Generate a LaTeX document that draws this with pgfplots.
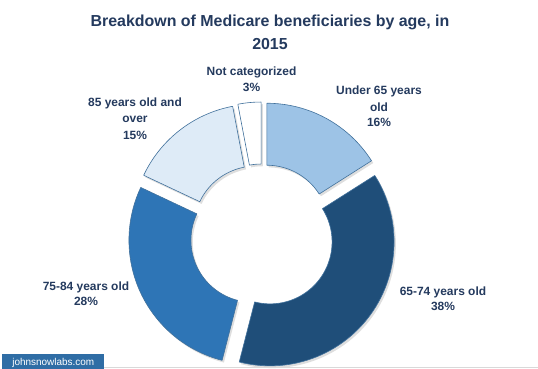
\documentclass[border=0pt]{standalone}
\usepackage{pgfplots}
\pgfplotsset{compat=1.18}
\usepackage{fontspec}
\setmainfont{Liberation Sans}
\definecolor{titleblue}{HTML}{243A5E}
\definecolor{cUnder}{HTML}{9DC3E6}
\definecolor{cSixFive}{HTML}{1F4E79}
\definecolor{cSevFive}{HTML}{2E75B6}
\definecolor{cEightFive}{HTML}{DEEBF7}
\definecolor{edgeblue}{HTML}{41719C}
\definecolor{wmblue}{HTML}{2F6DA5}
\definecolor{gline}{HTML}{D9D9D9}
% ---- data: share of Medicare beneficiaries by age, 2015 (%) ----
\def\pUnder{16}      % Under 65 years old
\def\pSixFive{38}    % 65-74 years old
\def\pSevFive{28}    % 75-84 years old
\def\pEightFive{15}  % 85 years old and over
\def\pNotCat{3}      % Not categorized
% geometry (px): outer radius, inner radius, explode distance, shift
\def\Rout{124}\def\Rin{62}\def\Expl{10}
\def\Sx{0}\def\Sy{0}
% one donut slice: #1 plot options, #2 percent before (clockwise from 12 o'clock), #3 percent
\newcommand{\donutslice}[3]{%
\addplot[#1, line join=round, domain=0:4, samples=241, variable=\t]
 ({\Sx+\Expl*cos(90-3.6*((#2)+0.5*(#3))) + (\Rout-(\Rout-\Rin)*(min(max(\t-1,0),1)-min(max(\t-3,0),1)))*cos(90-3.6*(#2)-3.6*(#3)*(min(\t,1)-min(max(\t-2,0),1)))},
  {\Sy+\Expl*sin(90-3.6*((#2)+0.5*(#3))) + (\Rout-(\Rout-\Rin)*(min(max(\t-1,0),1)-min(max(\t-3,0),1)))*sin(90-3.6*(#2)-3.6*(#3)*(min(\t,1)-min(max(\t-2,0),1)))});
}
\begin{document}
\begin{tikzpicture}
\fill[white] (0,0) rectangle (538bp,369bp);
\begin{axis}[
  at={(0,0)}, anchor=south west,
  x=1bp, y=1bp,
  xmin=-262, xmax=276, ymin=-133, ymax=236,
  hide axis, clip=false,
]
% soft shadows
\def\Sx{1.8}\def\Sy{-2.2}
\donutslice{draw=none, fill=black, fill opacity=0.13}{0}{\pUnder}
\donutslice{draw=none, fill=black, fill opacity=0.13}{\pUnder}{\pSixFive}
\donutslice{draw=none, fill=black, fill opacity=0.13}{\pUnder+\pSixFive}{\pSevFive}
\donutslice{draw=none, fill=black, fill opacity=0.13}{\pUnder+\pSixFive+\pSevFive}{\pEightFive}
\donutslice{draw=none, fill=black, fill opacity=0.13}{\pUnder+\pSixFive+\pSevFive+\pEightFive}{\pNotCat}
% slices
\def\Sx{0}\def\Sy{0}
\donutslice{fill=cUnder, draw=edgeblue, line width=0.6pt}{0}{\pUnder}
\donutslice{fill=cSixFive, draw=edgeblue, line width=0.6pt}{\pUnder}{\pSixFive}
\donutslice{fill=cSevFive, draw=edgeblue, line width=0.6pt}{\pUnder+\pSixFive}{\pSevFive}
\donutslice{fill=cEightFive, draw=edgeblue, line width=0.6pt}{\pUnder+\pSixFive+\pSevFive}{\pEightFive}
\donutslice{fill=white, draw=edgeblue, line width=0.6pt}{\pUnder+\pSixFive+\pSevFive+\pEightFive}{\pNotCat}

% title
\node[anchor=base, text=titleblue, font=\fontsize{16}{18}\selectfont\bfseries] at (axis cs:8,210) {Breakdown of Medicare beneficiaries by age, in};
\node[anchor=base, text=titleblue, font=\fontsize{16}{18}\selectfont\bfseries] at (axis cs:8,186.5) {2015};

% slice labels
\tikzset{lab/.style={anchor=base, text=titleblue, font=\fontsize{12}{14}\selectfont\bfseries, inner sep=0pt}}
\node[lab] at (axis cs:-10.5,161) {Not categorized};
\node[lab] at (axis cs:-10.5,144.5) {3\%};
\node[lab] at (axis cs:117,142) {Under 65 years};
\node[lab] at (axis cs:117,125) {old};
\node[lab] at (axis cs:117,109.3) {16\%};
\node[lab] at (axis cs:-127,130) {85 years old and};
\node[lab] at (axis cs:-127,113.5) {over};
\node[lab] at (axis cs:-127,97) {15\%};
\node[lab] at (axis cs:-176,-54.5) {75-84 years old};
\node[lab] at (axis cs:-176,-69.3) {28\%};
\node[lab] at (axis cs:181,-59) {65-74 years old};
\node[lab] at (axis cs:181,-74) {38\%};

% watermark
\fill[gline] (axis cs:-158,-132.3) rectangle (axis cs:276,-130.8);
\fill[wmblue] (axis cs:-260.3,-133) rectangle (axis cs:-158,-118);
\node[anchor=base, text=white, font=\fontsize{10}{12}\selectfont, inner sep=0pt] at (axis cs:-208.7,-129) {johnsnowlabs.com};
\end{axis}
\end{tikzpicture}
\end{document}
